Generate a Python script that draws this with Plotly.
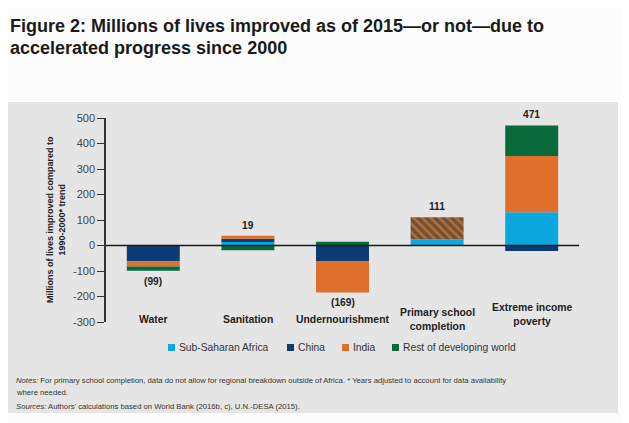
import plotly.graph_objects as go

categories = ["Water", "Sanitation", "Undernourishment", "Primary school completion", "Extreme income poverty"]
category_labels = ["Water", "Sanitation", "Undernourishment", "Primary school<br>completion", "Extreme income<br>poverty"]
series_names = ["Sub-Saharan Africa", "China", "India", "Rest of developing world"]
ssa = [0, 14, 0, 25, 130]
china = [-62, 12, -61, 0, -22]
india = [-20, 12, -123, 0, 221]
rest = [-17, -19, 15, 0, 120]
unallocated = [0, 0, 0, 86, 0]
totals = [-99, 19, -169, 111, 471]
ytick_vals = [-300, -200, -100, 0, 100, 200, 300, 400, 500]
ytick_text = ["-300", "-200", "-100", "0", "100", "200", "300", "400", "500"]

colors = ["#0aa8de", "#0b3c78", "#e06f2c", "#086a3a"]
series = [ssa, china, india, rest]

# the page body has an 8px margin, so the figure is drawn 8px in from the window corner
O = 8
W, H = 629 - O, 423 - O
L, R, T, B = 106 - O, 50, 118 - O, 101
PW, PH = W - L - R, H - T - B


def px(x):
    return (x - O - L) / PW


def py(y):
    return (H - B - (y - O)) / PH


FONT = "Liberation Sans, Arial, sans-serif"

fig = go.Figure()
for name, vals, col in zip(series_names, series, colors):
    fig.add_trace(go.Bar(x=categories, y=vals, name=name, marker=dict(color=col, line=dict(width=0)),
                         showlegend=False))
fig.add_trace(go.Bar(x=categories, y=unallocated, name="Africa only / not allocated",
                     marker=dict(color="#c46a2e", line=dict(width=0),
                                 pattern=dict(shape="\\", fgcolor="#0c4050", bgcolor="#c46a2e",
                                              size=6, solidity=0.6)),
                     showlegend=False))

shapes = [
    dict(type="rect", xref="paper", yref="paper", x0=px(8), x1=px(618), y0=py(413), y1=py(102),
         fillcolor="#e6e5e5", line=dict(width=0), layer="below"),
    dict(type="line", xref="paper", yref="y", x0=0, x1=1, y0=0, y1=0,
         line=dict(color="#1a1a1a", width=1.6), layer="above"),
]

annotations = []
# value labels
for i, cat in enumerate(categories):
    pos = sum(v[i] for v in series if v[i] > 0) + unallocated[i]
    neg = sum(v[i] for v in series if v[i] < 0)
    t = totals[i]
    if t >= 0:
        annotations.append(dict(x=cat, y=pos, xref="x", yref="y", text=f"<b>{t}</b>", showarrow=False,
                                yanchor="bottom", yshift=3, font=dict(size=10.2, color="#222", family=FONT)))
    else:
        annotations.append(dict(x=cat, y=neg, xref="x", yref="y", text=f"<b>({abs(t)})</b>", showarrow=False,
                                yanchor="top", yshift=-3, font=dict(size=10.2, color="#222", family=FONT)))
# category labels
label_y = [-290, -290, -290, -290, -270]
for cat, lab, ly in zip(categories, category_labels, label_y):
    annotations.append(dict(x=cat, y=ly, xref="x", yref="y", text=f"<b>{lab}</b>", showarrow=False,
                            yanchor="middle", font=dict(size=10.4, color="#222", family=FONT)))
# y title
annotations.append(dict(x=px(56), y=py(220), xref="paper", yref="paper", textangle=-90,
                        xanchor="center", yanchor="middle",
                        text="<b>Millions of lives improved compared to<br>1990-2000* trend</b>",
                        showarrow=False, font=dict(size=9, color="#222", family=FONT)))
# legend
leg_x = [168, 287, 342, 392]
for name, col, lx in zip(series_names, colors, leg_x):
    shapes.append(dict(type="rect", xref="paper", yref="paper", x0=px(lx), x1=px(lx + 7),
                       y0=py(351), y1=py(344), fillcolor=col, line=dict(width=0)))
    annotations.append(dict(x=px(lx + 9), y=py(347.5), xref="paper", yref="paper", text=name,
                            xanchor="left", yanchor="middle", showarrow=False,
                            font=dict(size=10.3, color="#333", family=FONT)))
# notes
note_font = dict(size=7.7, color="#333", family=FONT)
annotations.append(dict(x=px(14), y=py(380), xref="paper", yref="paper", xanchor="left", yanchor="middle",
                        showarrow=False, align="left",
                        text="<i>Notes:</i> For primary school completion, data do not allow for regional breakdown outside of Africa. * Years adjusted to account for data availability",
                        font=note_font))
annotations.append(dict(x=px(14), y=py(392), xref="paper", yref="paper", xanchor="left", yanchor="middle",
                        showarrow=False, align="left", text="where needed.", font=note_font))
annotations.append(dict(x=px(14), y=py(406), xref="paper", yref="paper", xanchor="left", yanchor="middle",
                        showarrow=False, align="left",
                        text="<i>Sources:</i> Authors' calculations based on World Bank (2016b, c), U.N.-DESA (2015).",
                        font=note_font))
# title
title_font = dict(size=18, color="#1a1a1a", family=FONT)
annotations.append(dict(x=px(8), y=py(26), xref="paper", yref="paper", xanchor="left", yanchor="middle",
                        showarrow=False, align="left",
                        text="<b>Figure 2: Millions of lives improved as of 2015—or not—due to</b>",
                        font=title_font))
annotations.append(dict(x=px(8), y=py(48), xref="paper", yref="paper", xanchor="left", yanchor="middle",
                        showarrow=False, align="left",
                        text="<b>accelerated progress since 2000</b>", font=title_font))

fig.update_layout(
    width=W, height=H, margin=dict(l=L, r=R, t=T, b=B, autoexpand=False),
    paper_bgcolor="#fcfcfc", plot_bgcolor="rgba(0,0,0,0)",
    barmode="relative", bargap=0.44, showlegend=False,
    shapes=shapes, annotations=annotations,
    xaxis=dict(range=[-0.5, 4.5], showticklabels=False, showline=False, showgrid=False, zeroline=False,
               ticks=""),
    yaxis=dict(range=[-300, 500], tickvals=ytick_vals, ticktext=ytick_text, ticks="outside", ticklen=7,
               tickcolor="#333", showline=True, linecolor="#333", linewidth=1.5, showgrid=False,
               zeroline=False, tickfont=dict(size=11, color="#444", family=FONT)),
    font=dict(family=FONT),
)

fig.write_html("out.html")
